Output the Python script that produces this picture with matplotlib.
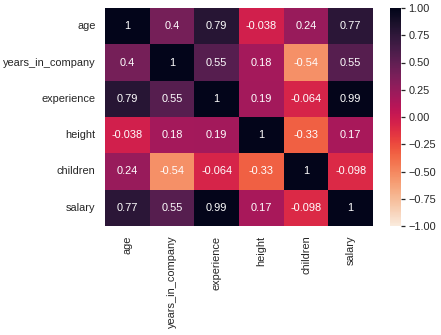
import numpy as np
import pandas as pd
import matplotlib
matplotlib.use("Agg")
import matplotlib.pyplot as plt
import seaborn as sns

sns.set_theme(style="white")
plt.rcParams['font.family'] = ['Liberation Sans', 'DejaVu Sans']

labels = ["age", "years_in_company", "experience", "height", "children", "salary"]
age = [1, 0.4, 0.79, -0.038, 0.24, 0.77]
years_in_company = [0.4, 1, 0.55, 0.18, -0.54, 0.55]
experience = [0.79, 0.55, 1, 0.19, -0.064, 0.99]
height = [-0.038, 0.18, 0.19, 1, -0.33, 0.17]
children = [0.24, -0.54, -0.064, -0.33, 1, -0.098]
salary = [0.77, 0.55, 0.99, 0.17, -0.098, 1]

corr = pd.DataFrame([age, years_in_company, experience, height, children, salary],
                    index=labels, columns=labels)

W, H = 441, 335
fig = plt.figure(figsize=(W / 72, H / 72), dpi=72)
ax = fig.add_axes([105 / W, 1 - 226 / H, (373 - 105) / W, (226 - 8) / H])
cax = fig.add_axes([390 / W, 1 - 226 / H, 11 / W, (226 - 8) / H])

sns.heatmap(corr, annot=True, cmap="rocket_r", vmin=-1, vmax=1, ax=ax, cbar_ax=cax,
            annot_kws={"size": 11})
ax.tick_params(labelsize=11)
cax.tick_params(labelsize=11, length=4)

fig.savefig("out.png", dpi=72)
